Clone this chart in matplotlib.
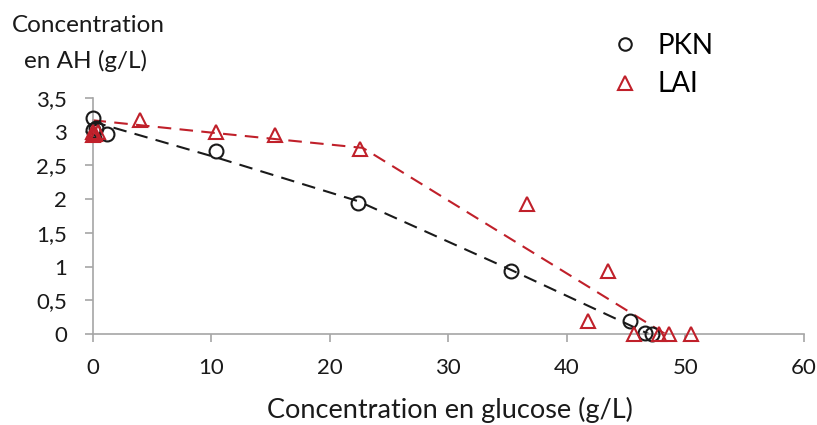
import matplotlib
matplotlib.use("Agg")
import matplotlib.pyplot as plt

plt.rcParams['font.family'] = ['Lato', 'DejaVu Sans']

# PKN data (glucose g/L, AH g/L)
pkn_x = [0.0, 0.0, 0.3, 1.2, 10.4, 22.4, 35.3, 45.3, 46.6, 47.2]
pkn_y = [3.2, 3.02, 3.05, 2.97, 2.72, 1.94, 0.93, 0.20, 0.01, 0.0]
# LAI data
lai_x = [0.0, 0.0, 0.2, 0.5, 4.0, 10.4, 15.4, 22.6, 36.6, 43.5, 41.8, 45.7, 47.8, 48.6, 50.5]
lai_y = [2.95, 3.0, 2.97, 3.0, 3.18, 3.0, 2.95, 2.74, 1.93, 0.93, 0.2, 0.0, 0.0, 0.0, 0.0]
# model (dashed) curves
pkn_fit_x = [0.0, 10.4, 22.4, 35.3, 46.9]
pkn_fit_y = [3.15, 2.62, 1.97, 0.95, 0.0]
lai_fit_x = [0.0, 10.4, 22.8, 48.3]
lai_fit_y = [3.17, 2.98, 2.76, 0.0]

xticks = [0, 10, 20, 30, 40, 50, 60]
yticks = [0, 0.5, 1, 1.5, 2, 2.5, 3, 3.5]
ytick_labels = ['0', '0,5', '1', '1,5', '2', '2,5', '3', '3,5']

black = '#1a1a1a'
red = '#c0202a'
grey = '#a6a6a6'

fig = plt.figure(figsize=(8.17, 4.25), dpi=100)
left_px, right_px, top_px, bottom_px = 92.5, 804, 98, 334
ax = fig.add_axes([left_px/817, 1-bottom_px/425, (right_px-left_px)/817, (bottom_px-top_px)/425])

ax.plot(pkn_fit_x, pkn_fit_y, color=black, lw=1.5, dashes=(6.5, 4), clip_on=False)
ax.plot(lai_fit_x, lai_fit_y, color=red, lw=1.5, dashes=(6.5, 4), clip_on=False)
ax.plot(pkn_x, pkn_y, 'o', ms=10, mfc='none', mec=black, mew=1.5, clip_on=False, label='PKN', zorder=3)
ax.plot(lai_x, lai_y, '^', ms=10.5, mfc='none', mec=red, mew=1.5, clip_on=False, label='LAI', zorder=3)

ax.set_xlim(0, 60)
ax.set_ylim(0, 3.5)
ax.set_xticks(xticks)
ax.set_yticks(yticks)
ax.set_yticklabels(ytick_labels)
for s in ['top', 'right']:
    ax.spines[s].set_visible(False)
for s in ['left', 'bottom']:
    ax.spines[s].set_color(grey)
    ax.spines[s].set_linewidth(1.2)
ax.tick_params(axis='both', colors=grey, labelcolor='#1a1a1a', labelsize=16, length=6, width=1.2)
ax.tick_params(axis='x', pad=11)
ax.tick_params(axis='y', pad=12.5)

fig.text(88/817, 1-25/425, 'Concentration', ha='center', va='center', fontsize=17.5, color='#1a1a1a')
fig.text(85/817, 1-61/425, 'en AH (g/L)', ha='center', va='center', fontsize=17.5, color='#1a1a1a')
fig.text(450/817, 1-410/425, 'Concentration en glucose (g/L)', ha='center', va='center', fontsize=19.5, color='#1a1a1a')

leg = ax.legend(loc='upper left', bbox_to_anchor=(608/817, 1-33/425), bbox_transform=fig.transFigure,
                frameon=False, fontsize=20, markerscale=0.9, handletextpad=0.6, labelspacing=0.45,
                handlelength=1.2, borderaxespad=0, borderpad=0)

fig.savefig('out.png', dpi=100)
